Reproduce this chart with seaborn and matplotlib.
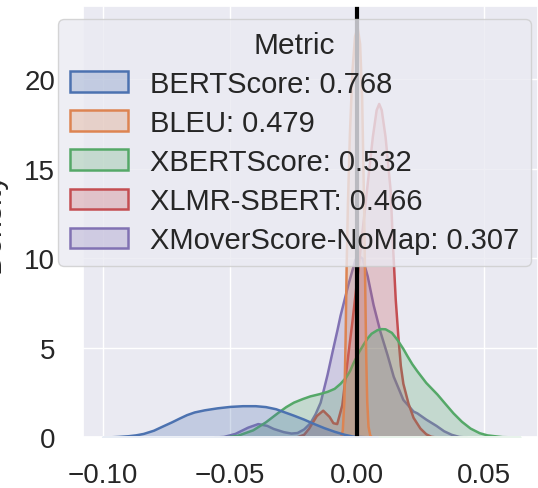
import numpy as np
import matplotlib
matplotlib.use("Agg")
import matplotlib.pyplot as plt
from matplotlib.patches import Patch
from matplotlib.colors import to_rgba
import seaborn as sns

# metric names shown in the legend (with their correlation)
metrics = ["BERTScore", "BLEU", "XBERTScore", "XLMR-SBERT", "XMoverScore-NoMap"]
scores = [0.768, 0.479, 0.532, 0.466, 0.307]

# density curves (x = score difference, y = density)
bert_x = [-0.100, -0.097, -0.094, -0.090, -0.087, -0.084, -0.080, -0.077, -0.073,
          -0.070, -0.067, -0.064, -0.060, -0.055, -0.050, -0.045, -0.040, -0.036,
          -0.032, -0.0285, -0.025, -0.021, -0.017, -0.013, -0.009, -0.005,
          -0.002, 0.000, 0.004, 0.008]
bert_y = [0.0, 0.01, 0.03, 0.07, 0.12, 0.2, 0.38, 0.58, 0.84,
          1.05, 1.25, 1.4, 1.52, 1.63, 1.71, 1.75, 1.75, 1.7,
          1.58, 1.4, 1.22, 1.0, 0.75, 0.52, 0.32, 0.15,
          0.06, 0.03, 0.01, 0.0]

bleu_x = [-0.0065, -0.0058, -0.0052, -0.0047, -0.0043, -0.0038, -0.003, -0.002,
          -0.001, 0.0, 0.001, 0.0018, 0.0025, 0.003, 0.0034, 0.0038, 0.0043,
          0.005, 0.0058]
bleu_y = [0.0, 0.4, 2.0, 5.5, 9.5, 13.0, 17.0, 20.5,
          22.4, 22.95, 22.0, 19.0, 13.5, 8.5, 4.5, 2.0, 0.6,
          0.1, 0.0]

xbert_x = [-0.052, -0.047, -0.041, -0.036, -0.0314, -0.028, -0.025, -0.0215,
           -0.0185, -0.015, -0.0118, -0.009, -0.0067, -0.0045, -0.003, -0.0016,
           0.0005, 0.0024, 0.004, 0.0055, 0.0078, 0.0095, 0.011, 0.0135, 0.0157,
           0.018, 0.0196, 0.0215, 0.0235, 0.027, 0.0314, 0.0345, 0.0377, 0.041,
           0.0444, 0.048, 0.051, 0.057, 0.064]
xbert_y = [0.0, 0.1, 0.4, 0.85, 1.35, 1.7, 1.95, 2.15,
           2.3, 2.42, 2.55, 2.72, 3.0, 3.35, 3.7, 4.15,
           4.75, 5.2, 5.55, 5.8, 6.0, 6.06, 6.05, 5.85, 5.45,
           4.95, 4.55, 4.1, 3.7, 3.05, 2.4, 1.88, 1.35, 0.88,
           0.5, 0.24, 0.12, 0.02, 0.0]

xlmr_x = [-0.024, -0.021, -0.019, -0.016, -0.0135, -0.011, -0.0095, -0.008,
          -0.006, -0.004, -0.002, 0.0, 0.002, 0.004, 0.006, 0.0075, 0.0085,
          0.0095, 0.011, 0.013, 0.014, 0.015, 0.016, 0.017, 0.018, 0.020,
          0.022, 0.0247, 0.027, 0.029, 0.031]
xlmr_y = [0.0, 0.15, 0.5, 1.2, 1.5, 1.15, 0.8, 0.75,
          1.8, 4.2, 6.5, 9.0, 11.6, 14.2, 16.8, 18.3, 18.65,
          18.3, 16.8, 13.8, 10.5, 7.7, 5.7, 4.0, 3.0, 1.9,
          1.1, 0.5, 0.18, 0.04, 0.0]

xmover_x = [-0.056, -0.0525, -0.048, -0.043, -0.039, -0.0355, -0.033, -0.029,
            -0.026, -0.0236, -0.021, -0.0185, -0.0165, -0.0145, -0.0118, -0.0098,
            -0.0079, -0.0067, -0.0035, -0.0008, 0.0005, 0.002, 0.004, 0.0063,
            0.009, 0.0118, 0.0142, 0.018, 0.022, 0.0235, 0.027, 0.031, 0.034,
            0.037, 0.040, 0.043]
xmover_y = [0.0, 0.03, 0.2, 0.55, 0.75, 0.65, 0.48, 0.3,
            0.22, 0.25, 0.45, 0.8, 1.3, 1.95, 3.5, 4.8,
            6.0, 6.8, 8.6, 9.95, 10.15, 10.0, 9.0, 7.4,
            5.9, 4.6, 3.4, 2.1, 1.45, 1.35, 1.0, 0.65, 0.35,
            0.15, 0.03, 0.0]

curves = [(bert_x, bert_y), (bleu_x, bleu_y), (xbert_x, xbert_y),
          (xlmr_x, xlmr_y), (xmover_x, xmover_y)]

sns.set_theme(style="darkgrid", font_scale=1.9)
plt.rcParams["font.family"] = ["Liberation Sans", "DejaVu Sans"]
palette = sns.color_palette("deep", len(metrics))

fig = plt.figure(figsize=(5.38, 4.89), dpi=100)
fig.subplots_adjust(left=83 / 538, right=1.0, bottom=51 / 489, top=482 / 489)
ax = fig.add_subplot(111)

lw = 1.8
# seaborn stacks the first hue level on top, so draw in reverse
for i in reversed(range(len(metrics))):
    xs, ys = curves[i]
    c = palette[i]
    ax.fill_between(xs, ys, facecolor=to_rgba(c, 0.25), edgecolor=c,
                    linewidth=lw)

ax.axvline(0, color="black", linewidth=3)

ax.set_xlim(-0.1077, 0.0711)
ax.set_ylim(0, 24.1)
ax.set_xticks([-0.10, -0.05, 0.00, 0.05])
ax.set_yticks([0, 5, 10, 15, 20])
ax.tick_params(axis="x", length=0, pad=18, labelsize=20)
ax.tick_params(axis="y", length=0, pad=20, labelsize=20)
ax.set_ylabel("Density", fontsize=22)
ax.yaxis.set_label_coords(-0.168, 0.5)

handles = [Patch(facecolor=to_rgba(c, 0.25), edgecolor=c, linewidth=lw,
                 label=f"{m}: {s:.3f}")
           for m, s, c in zip(metrics, scores, palette)]
ax.legend(handles=handles, title="Metric", loc="upper left",
          bbox_to_anchor=(-0.055, 0.970), borderaxespad=0,
          fontsize=21, title_fontsize=21.5, labelspacing=0.38,
          handletextpad=0.75)

fig.savefig("out.png", dpi=100)
